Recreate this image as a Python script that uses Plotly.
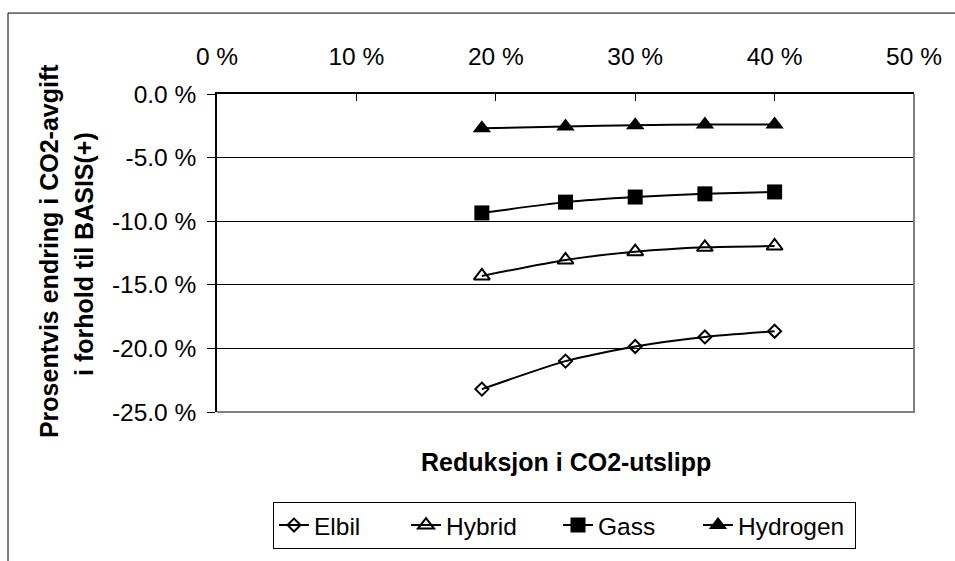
import plotly.graph_objects as go

# Data
x_reduction = [19, 25, 30, 35, 40]
elbil = [-23.2, -21.0, -19.85, -19.1, -18.65]
hybrid = [-14.3, -13.05, -12.4, -12.05, -11.95]
gass = [-9.35, -8.5, -8.1, -7.85, -7.7]
hydrogen = [-2.7, -2.55, -2.45, -2.4, -2.4]

series_names = ["Elbil", "Hybrid", "Gass", "Hydrogen"]
x_tick_vals = [0, 10, 20, 30, 40, 50]
x_tick_text = ["0 %", "10 %", "20 %", "30 %", "40 %", "50 %"]
y_tick_vals = [0, -5, -10, -15, -20, -25]
y_tick_text = ["0.0 %", "-5.0 %", "-10.0 %", "-15.0 %", "-20.0 %", "-25.0 %"]

FONT = "Liberation Sans, Arial, sans-serif"

W, H = 955, 561
L, R, T, B = 217, 914, 94, 424
pw, ph = R - L, B - T

def px(xp):
    return (xp - L) / pw

def py(yp):
    return (B - yp) / ph

styles = [
    dict(symbol="diamond-open", size=10, color="black", line=dict(width=2, color="black")),
    dict(symbol="triangle-up-open", size=14, color="black", line=dict(width=2, color="black")),
    dict(symbol="square", size=15, color="black", line=dict(width=0, color="black")),
    dict(symbol="triangle-up", size=16, color="black", line=dict(width=0, color="black")),
]
legend_widths = [87, 107, 95, 112]

fig = go.Figure()
for name, ys, st, lw in zip(series_names, [elbil, hybrid, gass, hydrogen], styles, legend_widths):
    fig.add_trace(go.Scatter(
        x=x_reduction, y=ys, name=name, mode="lines+markers",
        line=dict(color="black", width=2, shape="spline", smoothing=0.6),
        marker=st, legendwidth=lw,
    ))

fig.update_layout(
    width=W, height=H,
    margin=dict(l=L, r=W - R, t=T, b=H - B, pad=0),
    paper_bgcolor="white", plot_bgcolor="white",
    font=dict(family=FONT, color="black", size=25),
    showlegend=True,
    legend=dict(
        orientation="h", x=px(273), xanchor="left", y=py(517), yanchor="top",
        bordercolor="black", borderwidth=1, bgcolor="white",
        font=dict(family=FONT, size=24.5, color="black"),
        tracegroupgap=0,
    ),
    xaxis=dict(
        side="top", range=[0, 50], tickvals=x_tick_vals, ticktext=x_tick_text,
        ticks="inside", ticklen=7, tickcolor="black", tickwidth=1,
        showline=True, linecolor="black", linewidth=1.5,
        showgrid=False, zeroline=False, ticklabelstandoff=17,
        tickfont=dict(family=FONT, size=24.5, color="black"),
    ),
    yaxis=dict(
        range=[-25, 0], tickvals=y_tick_vals, ticktext=y_tick_text,
        ticks="outside", ticklen=8, tickcolor="black", tickwidth=1,
        showline=True, linecolor="black", linewidth=1.5,
        showgrid=True, gridcolor="black", gridwidth=1, zeroline=False,
        ticklabelstandoff=6,
        tickfont=dict(family=FONT, size=24.5, color="black"),
    ),
    shapes=[
        # plot area border (right & bottom, gray)
        dict(type="path", xref="paper", yref="paper",
             path="M 0 0 L 1 0 L 1 1", line=dict(color="#808080", width=2)),
        # outer chart border
        dict(type="rect", xref="paper", yref="paper",
             x0=px(8), x1=px(1000), y0=py(600), y1=py(10),
             line=dict(color="black", width=1), fillcolor="rgba(0,0,0,0)"),
    ],
    annotations=[
        dict(text="<b>Reduksjon i CO2-utslipp</b>", xref="paper", yref="paper",
             x=px(566), y=py(476), xanchor="center", yanchor="middle",
             showarrow=False, font=dict(family=FONT, size=25, color="black")),
        dict(text="<b>Prosentvis endring i CO2-avgift</b>",
             xref="paper", yref="paper", x=px(49), y=py(257),
             xanchor="center", yanchor="middle", textangle=-90,
             showarrow=False, font=dict(family=FONT, size=25, color="black")),
        dict(text="<b>i forhold til BASIS(+)</b>",
             xref="paper", yref="paper", x=px(84), y=py(260),
             xanchor="center", yanchor="middle", textangle=-90,
             showarrow=False, font=dict(family=FONT, size=25, color="black")),
    ],
)

fig.write_html("out.html")
